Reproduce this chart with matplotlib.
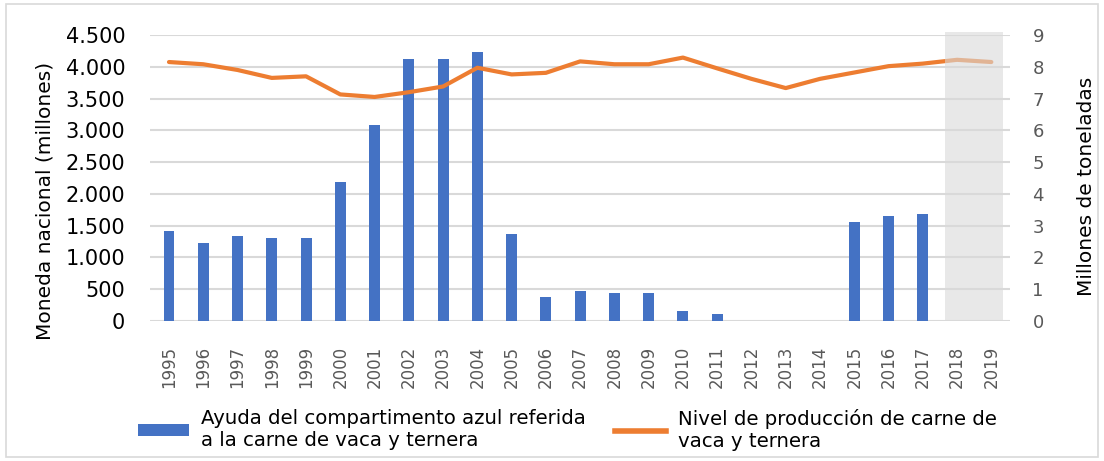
import matplotlib.pyplot as plt
import numpy as np
from matplotlib.patches import Rectangle
from matplotlib.lines import Line2D

years = [str(y) for y in range(1995, 2020)]
ayuda = [1420, 1230, 1330, 1300, 1300, 2180, 3080, 4130, 4130, 4230,
         1360, 380, 470, 440, 440, 150, 110, 0, 0, 0,
         1550, 1650, 1680, 0, 0]
produccion = [8.15, 8.08, 7.9, 7.65, 7.7, 7.13, 7.05, 7.2, 7.38, 7.97,
              7.76, 7.81, 8.17, 8.08, 8.08, 8.29, 7.95, 7.62, 7.33, 7.62,
              7.82, 8.02, 8.1, 8.22, 8.15]
left_ticks = [0, 500, 1000, 1500, 2000, 2500, 3000, 3500, 4000, 4500]
left_labels = ['0', '500', '1.000', '1.500', '2.000', '2.500', '3.000', '3.500', '4.000', '4.500']
right_ticks = list(range(10))

plt.rcParams['font.family'] = 'DejaVu Sans'

fig = plt.figure(figsize=(11.04, 4.61), dpi=100)
ax = fig.add_axes([0.136, 0.304, 0.779, 0.62])
ax2 = ax.twinx()

x = np.arange(len(years))

# barras azules
ax.bar(x, ayuda, width=0.32, color='#4472c4', zorder=3)
ax.set_ylim(0, 4500)
ax.set_xlim(-0.55, len(years) - 0.45)
ax.set_yticks(left_ticks)
ax.set_yticklabels(left_labels, fontsize=15)
ax.grid(axis='y', color='#d9d9d9', linewidth=1.5, zorder=0)
ax.set_xticks(x)
ax.set_xticklabels(years, rotation=90, fontsize=12, color='#595959')
ax.tick_params(axis='x', length=0, pad=18)
ax.tick_params(axis='y', length=0, pad=18)
ax.set_ylabel('Moneda nacional (millones)', fontsize=14.5, labelpad=8)
ax.yaxis.label.set_y(0.42)
for s in ax.spines.values():
    s.set_visible(False)

# línea naranja
ax2.plot(x, produccion, color='#ed7d31', linewidth=3, zorder=4, solid_capstyle='round')
ax2.set_ylim(0, 9)
ax2.set_yticks(right_ticks)
ax2.tick_params(length=0, labelsize=13, labelcolor='#595959', pad=16)
ax2.set_ylabel('Millones de toneladas', fontsize=14.5, labelpad=24)
ax2.yaxis.label.set_y(0.47)
for s in ax2.spines.values():
    s.set_visible(False)

# zona sombreada (proyección)
ax2.add_patch(Rectangle((22.65, 0), 1.68, 9.1, facecolor='#d9d9d9', alpha=0.6,
                        edgecolor='none', zorder=5, clip_on=False))

# leyenda
handles = [Rectangle((0, 0), 1, 1, facecolor='#4472c4'),
           Line2D([0], [0], color='#ed7d31', linewidth=4)]
labels = ['Ayuda del compartimento azul referida\na la carne de vaca y ternera',
          'Nivel de producción de carne de\nvaca y ternera']
fig.legend(handles, labels, loc='center left', bbox_to_anchor=(0.109, 0.068), ncol=2,
           frameon=False, fontsize=14.2, handlelength=2.6, handleheight=0.6,
           columnspacing=1.45, handletextpad=0.6, labelspacing=0.3)

# marco exterior
fig.add_artist(Rectangle((0.005, 0.008), 0.99, 0.984, transform=fig.transFigure,
                         fill=False, edgecolor='#d9d9d9', linewidth=1.2))

fig.savefig('out.png', dpi=100)
